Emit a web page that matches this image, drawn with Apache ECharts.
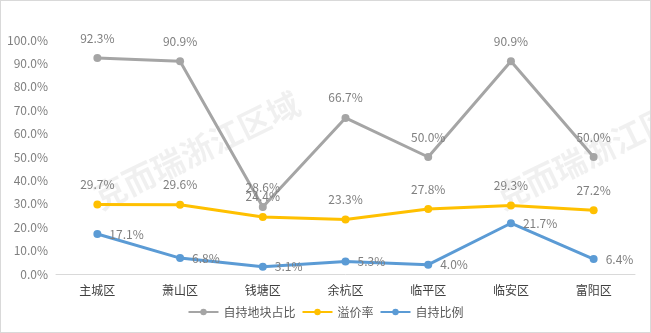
<!DOCTYPE html>
<html>
<head>
<meta charset="utf-8">
<script src="https://cdn.jsdelivr.net/npm/echarts@6/dist/echarts.min.js"></script>
<style>
  html, body { margin: 0; padding: 0; background: #fff; }
  #chart { width: 651px; height: 333px; box-sizing: border-box; border: 1px solid #d9d9d9; }
</style>
</head>
<body>
<div id="chart"></div>
<script>
// 区县
const districts = ['主城区', '萧山区', '钱塘区', '余杭区', '临平区', '临安区', '富阳区'];
// 自持地块占比 (%)
const ownedPlotShare = [92.3, 90.9, 28.6, 66.7, 50.0, 90.9, 50.0];
// 溢价率 (%)
const premiumRate = [29.7, 29.6, 24.4, 23.3, 27.8, 29.3, 27.2];
// 自持比例 (%)
const ownedRatio = [17.1, 6.8, 3.1, 5.3, 4.0, 21.7, 6.4];

const FONT = '"Noto Sans CJK SC", "Liberation Sans", sans-serif';
const pct = v => v.toFixed(1) + '%';

function lineSeries(name, data, color, labelPos) {
  return {
    name: name,
    type: 'line',
    data: data,
    symbol: 'circle',
    symbolSize: 8,
    lineStyle: { width: 3, color: color },
    itemStyle: { color: color },
    label: {
      show: true,
      position: labelPos,
      distance: labelPos === 'right' ? 8 : 10,
      color: '#7f7f7f',
      fontFamily: FONT,
      fontSize: 12,
      formatter: p => pct(p.value)
    },
    z: 3
  };
}

const chart = echarts.init(document.getElementById('chart'), null, { renderer: 'canvas' });
chart.setOption({
  animation: false,
  backgroundColor: '#fff',
  grid: { left: 55, right: 15, top: 39, bottom: 58, containLabel: false },
  graphic: [
    { type: 'text', left: 88, top: 86, rotation: 26 * Math.PI / 180, originX: 0, originY: 0,
      style: { text: '克而瑞浙江区域', font: 'bold 32px "Noto Sans CJK SC"', fill: 'rgba(0,0,0,0.06)' }, z: 0 },
    { type: 'text', left: 490, top: 86, rotation: 26 * Math.PI / 180,
      style: { text: '克而瑞浙江区域', font: 'bold 32px "Noto Sans CJK SC"', fill: 'rgba(0,0,0,0.06)' }, z: 0 }
  ],
  legend: {
    bottom: 9,
    left: 'center',
    itemWidth: 30,
    itemHeight: 8,
    itemGap: 6,
    textStyle: { color: '#595959', fontFamily: FONT, fontSize: 12 },
    data: ['自持地块占比', '溢价率', '自持比例']
  },
  xAxis: {
    type: 'category',
    data: districts,
    boundaryGap: true,
    axisLine: { lineStyle: { color: '#d9d9d9', width: 1 } },
    axisTick: { show: false },
    axisLabel: { color: '#404040', fontFamily: FONT, fontSize: 12, margin: 10 }
  },
  yAxis: {
    type: 'value',
    min: 0,
    max: 100,
    interval: 10,
    axisLine: { show: false },
    axisTick: { show: false },
    splitLine: { show: false },
    axisLabel: { color: '#7f7f7f', fontFamily: FONT, fontSize: 12, margin: 8, formatter: v => v.toFixed(1) + '%' }
  },
  series: [
    lineSeries('自持地块占比', ownedPlotShare, '#a5a5a5', 'top'),
    lineSeries('溢价率', premiumRate, '#ffc000', 'top'),
    lineSeries('自持比例', ownedRatio, '#5b9bd5', 'right')
  ]
});
</script>
</body>
</html>
